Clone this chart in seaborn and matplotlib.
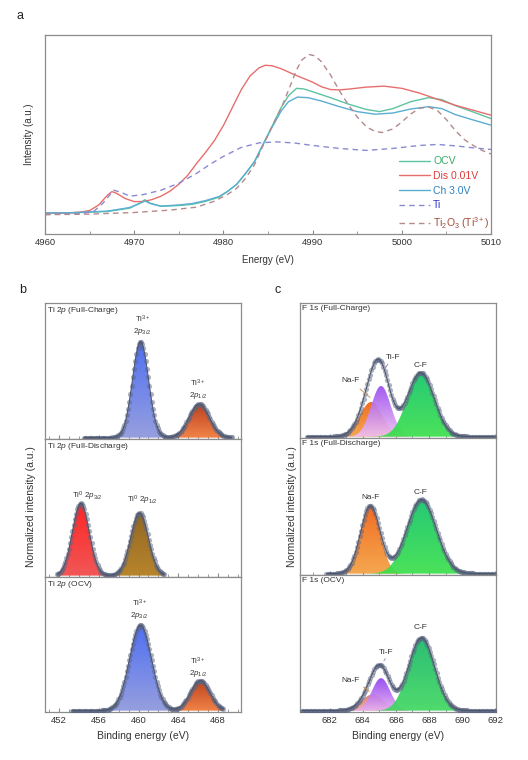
import numpy as np
import pandas as pd
import matplotlib
matplotlib.use("Agg")
import matplotlib.pyplot as plt
import seaborn as sns
from matplotlib.colors import LinearSegmentedColormap
from matplotlib.ticker import MultipleLocator

# ---------------- Panel a : Ti K-edge XANES -------------
E_dis = [4960, 4962, 4964, 4965, 4966, 4967, 4967.5, 4968, 4969, 4970, 4971, 4972, 4973, 4974,
         4975, 4976, 4977, 4978, 4979, 4980, 4981, 4982, 4983, 4984, 4984.7, 4985.5, 4986.5,
         4988, 4990, 4991, 4992, 4993, 4994, 4996, 4998, 5000, 5002, 5004, 5006, 5008, 5010]
I_dis = [10.5, 10.5, 11.0, 11.8, 14.5, 19.5, 21.3, 20.5, 17.8, 16.3, 16.3, 17.3, 19.0, 21.5,
         25.0, 29.5, 35.5, 41.0, 47.0, 54.5, 63.5, 72.5, 79.5, 83.5, 84.8, 84.5, 83.0,
         80.0, 76.3, 74.0, 72.6, 72.4, 72.8, 73.8, 74.3, 73.2, 70.8, 67.7, 64.7, 62.2, 59.7]

E_ocv = [4960, 4963, 4967, 4969.5, 4970.6, 4971.2, 4971.8, 4973, 4975, 4976.5, 4978, 4979.5,
         4980.5, 4981.5, 4982.5, 4983.5, 4984.5, 4985.5, 4986.5, 4987.3, 4988.2, 4989, 4990,
         4992, 4994, 4996, 4997.5, 4999, 5001, 5003, 5004.5, 5006, 5008, 5010]
I_ocv = [10.5, 10.6, 11.3, 13.0, 15.5, 17.2, 15.5, 13.9, 14.3, 14.9, 16.4, 18.5,
         21.5, 25.0, 30.5, 36.5, 45.5, 54.5, 63.8, 69.5, 73.2, 72.9, 71.5,
         68.5, 65.3, 62.6, 61.5, 63.0, 66.5, 68.5, 67.5, 64.5, 61.3, 58.0]

E_ch = [4960, 4963, 4967, 4969.5, 4970.6, 4971.2, 4971.8, 4973, 4975, 4976.5, 4978, 4979.5,
        4980.5, 4981.5, 4982.5, 4983.5, 4984.5, 4985.5, 4986.5, 4987.3, 4988.3, 4989.5, 4991,
        4993, 4995, 4997, 4999, 5001, 5003, 5004.5, 5006, 5008, 5010]
I_ch = [10.5, 10.7, 11.5, 13.3, 15.3, 16.6, 15.3, 14.0, 14.6, 15.3, 16.8, 18.8,
        21.5, 25.0, 30.5, 36.5, 45.5, 54.0, 62.0, 66.5, 68.8, 68.5, 66.8,
        64.0, 61.5, 60.2, 60.8, 62.8, 64.0, 63.0, 60.0, 57.3, 54.7]

E_ti = [4960, 4964, 4965.5, 4966.5, 4967.7, 4968.5, 4969.5, 4971, 4973, 4975, 4977, 4978.5,
        4980, 4982, 4984, 4986, 4988, 4990, 4993, 4996, 4999, 5002, 5004, 5006, 5008, 5010]
I_ti = [9.8, 10.2, 11.5, 15.5, 22.0, 21.0, 19.0, 19.8, 22.0, 25.5, 30.5, 35.0,
        39.0, 43.5, 45.8, 46.3, 45.7, 44.5, 43.0, 42.0, 43.0, 44.5, 45.0, 44.3, 43.3, 42.5]

E_t3 = [4960, 4965, 4970, 4974, 4977, 4979, 4980.5, 4981.5, 4982.5, 4983.5, 4984.5, 4985.5,
        4986.5, 4987.5, 4988.2, 4988.8, 4989.6, 4990.3, 4991, 4992, 4993, 4994, 4995, 4996,
        4997, 4997.8, 4999, 5000, 5001, 5002, 5003, 5004, 5005, 5006, 5007, 5008, 5009, 5010]
I_t3 = [9.7, 10.0, 10.8, 12.0, 13.5, 16.5, 20.0, 23.0, 28.0, 35.0, 45.0, 54.5,
        63.5, 74.5, 82.5, 87.5, 90.2, 89.5, 86.5, 80.0, 72.0, 65.0, 58.8, 54.0,
        51.5, 51.0, 52.8, 56.3, 60.3, 63.2, 63.8, 62.0, 57.5, 52.0, 47.5, 44.5, 42.0, 40.2]

a_names = ["OCV", "Dis 0.01V", "Ch 3.0V", "Ti", r"Ti$_2$O$_3$ (Ti$^{3+}$)"]
a_line_colors = ["#5cc4a2", "#e86e6e", "#5aaed2", "#8a8ad2", "#b48a8a"]
a_text_colors = ["#3aaa6a", "#e03a3a", "#2a80c0", "#3030d0", "#a04a3a"]

# ---------------- Panel b : Ti 2p XPS fitted components ------------------------------
b_titles = [r"Ti 2$\mathit{p}$ (Full-Charge)", r"Ti 2$\mathit{p}$ (Full-Discharge)", r"Ti 2$\mathit{p}$ (OCV)"]
b_centers = [[460.2, 466.1], [454.2, 460.1], [460.2, 466.2]]
b_heights = [[0.715, 0.25], [0.53, 0.46], [0.64, 0.225]]
b_fwhm = [[1.9, 2.4], [2.0, 2.1], [2.6, 2.3]]
b_ranges = [(454.5, 469.5), (451.8, 462.6), (453.3, 468.6)]
b_labels = [[r"Ti$^{3+}$" "\n" r"2$\mathit{p}_{3/2}$", r"Ti$^{3+}$" "\n" r"2$\mathit{p}_{1/2}$"],
            [r"Ti$^{0}$ 2$\mathit{p}_{3/2}$", r"Ti$^{0}$ 2$\mathit{p}_{1/2}$"],
            [r"Ti$^{3+}$" "\n" r"2$\mathit{p}_{3/2}$", r"Ti$^{3+}$" "\n" r"2$\mathit{p}_{1/2}$"]]
b_label_pos = [[(460.4, 0.835), (466.0, 0.36)], [(454.9, 0.58), (460.4, 0.553)],
               [(460.1, 0.76), (466.0, 0.325)]]
b_colors = [[("#3f63f2", "#8d96dc"), ("#b8300a", "#f07838")],
            [("#ff1010", "#f04848"), ("#8a5a10", "#b07a18")],
            [("#3f63f2", "#8d96dc"), ("#b8300a", "#f07838")]]

# ---------------- Panel c : F 1s XPS fitted components -------------------------------
c_titles = ["F 1s (Full-Charge)", "F 1s (Full-Discharge)", "F 1s (OCV)"]
c_centers = [[684.5, 685.1, 687.5], [684.45, 687.55], [684.6, 685.1, 687.55]]
c_heights = [[0.26, 0.38, 0.48], [0.50, 0.547], [0.12, 0.24, 0.538]]
c_fwhm = [[1.6, 1.4, 1.9], [1.4, 2.1], [1.6, 1.3, 1.85]]
c_ranges = [(680.6, 692.0), (681.8, 692.0), (680.3, 692.0)]
c_colors = [[("#f06010", "#f4a040"), ("#9a4cf0", "#f0c0f0"), ("#12c46a", "#3ae04a")],
            [("#f06010", "#f4a040"), ("#12c46a", "#3ae04a")],
            [("#e07a6a", "#f0a8a0"), ("#9040f0", "#e8b0f0"), ("#18b868", "#40d860")]]
c_labels = [["Na-F", "Ti-F", "C-F"], ["Na-F", "C-F"], ["Na-F", "Ti-F", "C-F"]]
c_label_pos = [[(683.23, 0.42), (685.8, 0.59), (687.5, 0.53)],
               [(684.48, 0.565), (687.5, 0.60)],
               [(683.27, 0.22), (685.39, 0.43), (687.5, 0.61)]]
c_leaders = [[((683.7, 0.37), (684.56, 0.28), "#c89a60"), ((685.6, 0.56), (685.24, 0.49), "#9a8ab0")],
             [],
             [((683.91, 0.185), (684.52, 0.13), "#e08a3a"), ((685.45, 0.40), (685.18, 0.35), "#9a8ab0")]]

# ------------------------------------------------------------------------------------
sns.set_theme(style="ticks")
plt.rcParams["font.family"] = ["Liberation Sans", "DejaVu Sans"]
plt.rcParams["mathtext.fontset"] = "custom"
plt.rcParams["mathtext.rm"] = "Liberation Sans"
plt.rcParams["mathtext.it"] = "Liberation Sans:italic"
plt.rcParams["mathtext.bf"] = "Liberation Sans:bold"

W, H = 528, 760
fig = plt.figure(figsize=(W / 100, H / 100), dpi=100)
SPINE = "#8c8c8c"
TXT = "#333333"


def add_ax(x0, y0, x1, y1):
    return fig.add_axes([x0 / W, 1 - y1 / H, (x1 - x0) / W, (y1 - y0) / H])


def style_ax(ax, labels=True, fs=6.8):
    for s in ax.spines.values():
        s.set_color(SPINE)
        s.set_linewidth(0.9)
    ax.tick_params(axis="x", which="both", direction="in", color=SPINE, labelcolor=TXT,
                   labelsize=fs, pad=3, labelbottom=labels, top=False)
    ax.tick_params(axis="x", which="major", length=3, width=0.8)
    ax.tick_params(axis="x", which="minor", length=2, width=0.6)
    ax.set_yticks([])
    ax.set_ylabel("")
    ax.set_xlabel("")


def gauss(E, c, h, w):
    return h * np.exp(-4 * np.log(2) * ((E - c) / w) ** 2)


def gradient_fill(ax, x, y, top, bottom, z):
    poly = ax.fill_between(x, 0, y, color="none", lw=0)
    cmap = LinearSegmentedColormap.from_list("g", [bottom, top])
    grad = np.linspace(0, 1, 256).reshape(-1, 1)
    im = ax.imshow(grad, aspect="auto", cmap=cmap, origin="lower",
                   extent=[x.min(), x.max(), 0, y.max()], zorder=z, alpha=0.92,
                   interpolation="bilinear")
    im.set_clip_path(poly.get_paths()[0], transform=ax.transData)


# ---------------- Panel a ----------------
axa = add_ax(45, 35, 491, 234)
series = [(E_ocv, I_ocv, "-"), (E_dis, I_dis, "-"), (E_ch, I_ch, "-"),
          (E_ti, I_ti, (0, (4, 3))), (E_t3, I_t3, (0, (4, 3)))]
for (E, I, ls), name, col in zip(series, a_names, a_line_colors):
    df = pd.DataFrame({"E": E, "I": I})
    sns.lineplot(data=df, x="E", y="I", ax=axa, color=col, lw=1.0, linestyle=ls,
                 label=name, sort=False)
axa.set_xlim(4960, 5010)
axa.set_ylim(0, 100)
axa.xaxis.set_major_locator(MultipleLocator(10))
axa.xaxis.set_minor_locator(MultipleLocator(5))
style_ax(axa)
axa.set_xlabel("Energy (eV)", fontsize=7, color=TXT, labelpad=6)
axa.set_ylabel("Intensity (a.u.)", fontsize=7, color=TXT, labelpad=8)
axa.legend(loc="lower left", bbox_to_anchor=(0.79, 0.005), frameon=False, fontsize=7.5,
           handlelength=2.9, handletextpad=0.35, labelspacing=0.45, borderpad=0.2,
           borderaxespad=0, labelcolor=a_text_colors)

# ---------------- Panel b ----------------
b_rows = [(303, 439), (439, 577), (577, 712)]
for i, (y0, y1) in enumerate(b_rows):
    ax = add_ax(45, y0, 241, y1)
    lo, hi = b_ranges[i]
    E = np.arange(lo, hi, 0.12)
    total = np.zeros_like(E)
    for k, (c, h, w) in enumerate(zip(b_centers[i], b_heights[i], b_fwhm[i])):
        comp = gauss(E, c, h, w)
        total += comp
        gradient_fill(ax, E, comp, b_colors[i][k][0], b_colors[i][k][1], 2 + k)
    sns.scatterplot(x=E, y=total, ax=ax, s=14, color="#5a6580", alpha=0.5,
                    linewidth=0, zorder=6)
    sns.lineplot(x=E, y=total, ax=ax, color="#4a5268", lw=0.7, zorder=7)
    for lab, (px, py) in zip(b_labels[i], b_label_pos[i]):
        ax.text(px, py, lab, ha="center", va="center", fontsize=5.8, color=TXT,
                linespacing=1.1, zorder=8)
    ax.text(0.012, 0.985, b_titles[i], transform=ax.transAxes, ha="left", va="top",
            fontsize=6, color=TXT)
    ax.set_xlim(450.6, 470.3)
    ax.set_ylim(-0.01, 1.0)
    ax.xaxis.set_major_locator(MultipleLocator(4))
    ax.xaxis.set_minor_locator(MultipleLocator(1))
    style_ax(ax, labels=(i == 2))
    if i == 2:
        ax.set_xlabel("Binding energy (eV)", fontsize=7.5, color=TXT, labelpad=4)

# ---------------- Panel c ----------------
c_rows = [(303, 438), (438, 575), (575, 712)]
for i, (y0, y1) in enumerate(c_rows):
    ax = add_ax(300, y0, 496, y1)
    lo, hi = c_ranges[i]
    E = np.arange(lo, hi, 0.08)
    total = np.zeros_like(E)
    for k, (c, h, w) in enumerate(zip(c_centers[i], c_heights[i], c_fwhm[i])):
        comp = gauss(E, c, h, w)
        total += comp
        gradient_fill(ax, E, comp, c_colors[i][k][0], c_colors[i][k][1], 2 + k)
    sns.scatterplot(x=E, y=total, ax=ax, s=14, color="#5a6580", alpha=0.5,
                    linewidth=0, zorder=6)
    sns.lineplot(x=E, y=total, ax=ax, color="#4a5268", lw=0.7, zorder=7)
    for lab, (px, py) in zip(c_labels[i], c_label_pos[i]):
        ax.text(px, py, lab, ha="center", va="center", fontsize=6, color=TXT, zorder=8)
    for (p0, p1, col) in c_leaders[i]:
        ax.annotate("", xy=p1, xytext=p0,
                    arrowprops=dict(arrowstyle="-", color=col, lw=0.7), zorder=8)
    ax.text(0.012, 0.985, c_titles[i], transform=ax.transAxes, ha="left", va="top",
            fontsize=6, color=TXT)
    ax.set_xlim(680.2, 692.05)
    ax.set_ylim(-0.01, 1.0)
    ax.xaxis.set_major_locator(MultipleLocator(2))
    ax.xaxis.set_minor_locator(MultipleLocator(1))
    style_ax(ax, labels=(i == 2))
    if i == 2:
        ax.set_xlabel("Binding energy (eV)", fontsize=7.5, color=TXT, labelpad=4)

# shared y labels and panel letters
fig.text(31.5 / W, 1 - 507 / H, "Normalized intensity (a.u.)", rotation=90,
         ha="center", va="center", fontsize=7.5, color=TXT)
fig.text(292 / W, 1 - 507 / H, "Normalized intensity (a.u.)", rotation=90,
         ha="center", va="center", fontsize=7.5, color=TXT)
fig.text(20 / W, 1 - 16 / H, "a", ha="center", va="center", fontsize=9, color="#222222")
fig.text(22.7 / W, 1 - 290 / H, "b", ha="center", va="center", fontsize=9, color="#222222")
fig.text(277.3 / W, 1 - 290 / H, "c", ha="center", va="center", fontsize=9, color="#222222")

fig.savefig("out.png", dpi=100, facecolor="white")
